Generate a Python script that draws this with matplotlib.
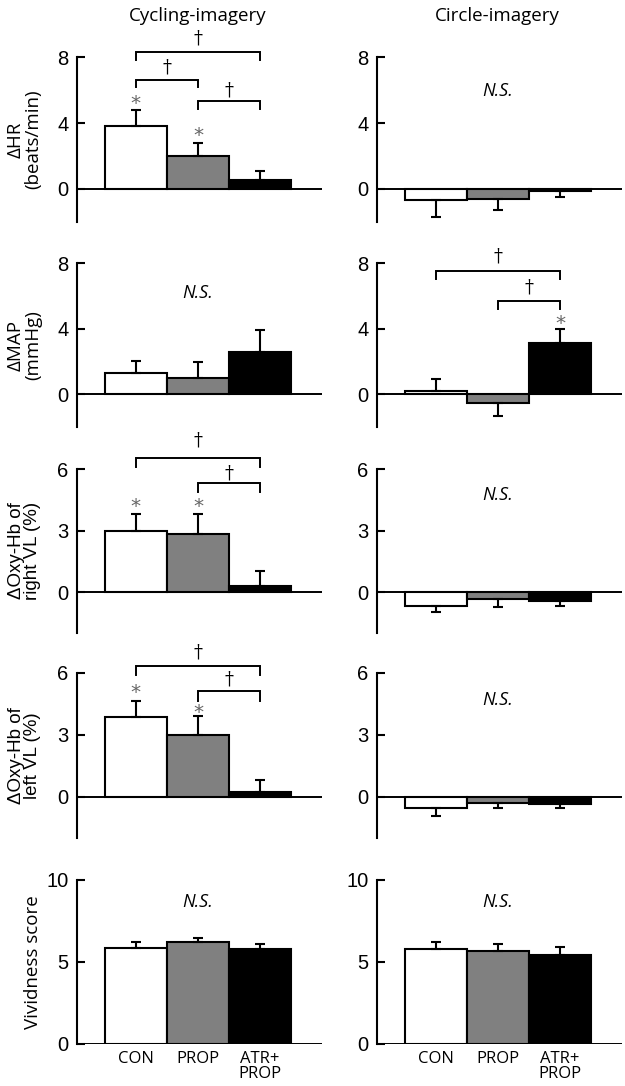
import matplotlib.pyplot as plt
import numpy as np

# ---- datos ----
grupos = ['CON', 'PROP', 'ATR+\nPROP']
colores = ['white', '#808080', 'black']

cyc_hr = [3.8, 2.0, 0.52]
cyc_hr_err = [1.0, 0.77, 0.55]
cir_hr = [-0.65, -0.6, -0.15]
cir_hr_err = [1.05, 0.7, 0.35]

cyc_map = [1.3, 1.0, 2.6]
cyc_map_err = [0.72, 0.97, 1.3]
cir_map = [0.2, -0.55, 3.15]
cir_map_err = [0.7, 0.8, 0.8]

cyc_oxr = [3.0, 2.83, 0.29]
cyc_oxr_err = [0.83, 1.0, 0.75]
cir_oxr = [-0.68, -0.35, -0.43]
cir_oxr_err = [0.3, 0.38, 0.25]

cyc_oxl = [3.85, 2.98, 0.25]
cyc_oxl_err = [0.78, 0.92, 0.57]
cir_oxl = [-0.57, -0.3, -0.33]
cir_oxl_err = [0.38, 0.27, 0.24]

cyc_viv = [5.85, 6.2, 5.8]
cyc_viv_err = [0.35, 0.25, 0.3]
cir_viv = [5.8, 5.67, 5.4]
cir_viv_err = [0.4, 0.43, 0.5]

# anotaciones: asteriscos (grupo, y), corchetes (g1, g2, y, y_pata, y_daga), N.S. (y)
cyc_hr_stars = [(0, 5.5), (1, 3.55)]
cyc_hr_br = [(0, 2, 8.3, 7.83, 9.15), (0, 1, 6.63, 6.2, 7.35), (1, 2, 5.36, 4.82, 5.96)]
cir_map_stars = [(2, 4.6)]
cir_map_br = [(0, 2, 7.5, 7.0, 8.4), (1, 2, 5.7, 5.2, 6.5)]
cyc_oxr_stars = [(0, 4.42), (1, 4.42)]
cyc_oxr_br = [(0, 2, 6.52, 6.08, 7.4), (1, 2, 5.3, 4.86, 5.79)]
cyc_oxl_stars = [(0, 5.29), (1, 4.32)]
cyc_oxl_br = [(0, 2, 6.35, 5.92, 6.98), (1, 2, 5.14, 4.66, 5.68)]

paneles = [
    # (izq, izq_err, der, der_err, ylim, yticks, etiqueta, fuente etiqueta, anot izq, anot der)
    (cyc_hr, cyc_hr_err, cir_hr, cir_hr_err, (-2, 8), [0, 4, 8],
     '\u0394HR\n(beats/min)', 'Open Sans',
     dict(stars=cyc_hr_stars, br=cyc_hr_br), dict(ns=5.96)),
    (cyc_map, cyc_map_err, cir_map, cir_map_err, (-2, 8), [0, 4, 8],
     '\u0394MAP\n(mmHg)', 'Open Sans',
     dict(ns=6.16), dict(stars=cir_map_stars, br=cir_map_br)),
    (cyc_oxr, cyc_oxr_err, cir_oxr, cir_oxr_err, (-2, 6), [0, 3, 6],
     '\u0394Oxy-Hb of\nright VL (%)', 'Liberation Sans',
     dict(stars=cyc_oxr_stars, br=cyc_oxr_br), dict(ns=4.73)),
    (cyc_oxl, cyc_oxl_err, cir_oxl, cir_oxl_err, (-2, 6), [0, 3, 6],
     '\u0394Oxy-Hb of\nleft VL (%)', 'Liberation Sans',
     dict(stars=cyc_oxl_stars, br=cyc_oxl_br), dict(ns=4.7)),
    (cyc_viv, cyc_viv_err, cir_viv, cir_viv_err, (0, 10), [0, 5, 10],
     'Vividness score', 'Open Sans',
     dict(ns=8.66), dict(ns=8.66)),
]

# posiciones de los ejes en fraccion de figura
izquierdas = [0.1232, 0.6032]
ancho = 0.392
abajos = [0.7956, 0.6068, 0.4171, 0.2284, 0.0387]
altos = [0.1519, 0.1510, 0.1510, 0.1519, 0.1510]

x = np.arange(3)

fig = plt.figure(figsize=(6.25, 10.86), dpi=100)


def dibujar(ax, vals, errs, ylim, yticks, anot, ultimo):
    vals = np.array(vals)
    errs = np.array(errs)
    ax.axhline(0, color='black', lw=1.4, zorder=1)
    ax.bar(x, vals, width=1.0, color=colores, edgecolor='black', linewidth=1.5, zorder=2)
    lower = np.where(vals < 0, errs, 0)
    upper = np.where(vals >= 0, errs, 0)
    ax.errorbar(x, vals, yerr=[lower, upper], fmt='none', ecolor='black',
                elinewidth=1.5, capsize=3.5, capthick=1.5, zorder=3)
    ax.set_xlim(-0.95, 3.0)
    ax.set_ylim(*ylim)
    ax.set_yticks(yticks)
    for s in ['top', 'right', 'bottom']:
        ax.spines[s].set_visible(False)
    ax.spines['left'].set_linewidth(1.5)
    ax.tick_params(axis='y', direction='in', length=6, width=1.5, pad=6, labelsize=14.5)
    for lab in ax.get_yticklabels():
        lab.set_family('Liberation Sans')
    if ultimo:
        ax.set_xticks(x)
        ax.set_xticklabels(grupos, family='Open Sans', fontsize=12, linespacing=0.95)
        ax.tick_params(axis='x', length=0, pad=5)
    else:
        ax.set_xticks([])

    # el "*" de DejaVu queda alto en su caja: se baja unos puntos
    for g, yy in anot.get('stars', []):
        ax.annotate('*', (g, yy), xytext=(0, -3.5), textcoords='offset points',
                    ha='center', va='center', fontsize=14.5, color='#666666',
                    family='DejaVu Sans', annotation_clip=False)
    for g1, g2, yb, yl, yd in anot.get('br', []):
        ax.plot([g1, g1, g2, g2], [yl, yb, yb, yl], color='black', lw=1.4,
                clip_on=False, solid_joinstyle='miter')
        ax.text((g1 + g2) / 2, yd, '\u2020', ha='center', va='center', fontsize=13,
                family='DejaVu Serif', clip_on=False)
    if 'ns' in anot:
        ax.text(1, anot['ns'], 'N.S.', ha='center', va='center', fontsize=13,
                style='italic', family='Open Sans')


for i, (iv, ie, dv, de, ylim, yticks, etiqueta, fuente, a_izq, a_der) in enumerate(paneles):
    ultimo = i == len(paneles) - 1
    ax1 = fig.add_axes([izquierdas[0], abajos[i], ancho, altos[i]])
    dibujar(ax1, iv, ie, ylim, yticks, a_izq, ultimo)
    ax2 = fig.add_axes([izquierdas[1], abajos[i], ancho, altos[i]])
    dibujar(ax2, dv, de, ylim, yticks, a_der, ultimo)
    xl = 0.053 if '\n' not in etiqueta else 0.039
    fig.text(xl, abajos[i] + altos[i] / 2, etiqueta, rotation=90, ha='center', va='center',
             multialignment='center', fontsize=13.5, family=fuente, linespacing=0.95)

fig.text(0.316, 0.985, 'Cycling-imagery', ha='center', va='center', fontsize=13.5, family='Open Sans')
fig.text(0.796, 0.985, 'Circle-imagery', ha='center', va='center', fontsize=13.5, family='Open Sans')

plt.savefig('out.png', dpi=100)
